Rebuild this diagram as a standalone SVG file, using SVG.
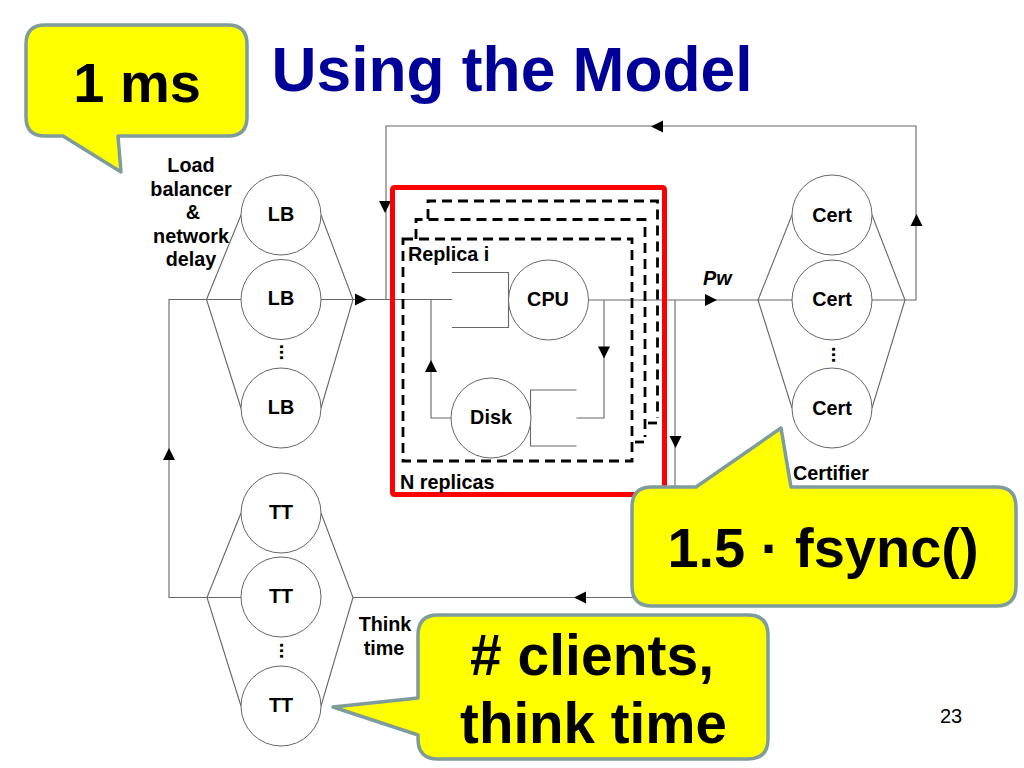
<svg xmlns="http://www.w3.org/2000/svg" width="1024" height="768" viewBox="0 0 1024 768">
<style>
text{font-family:"Liberation Sans",Arial,sans-serif;font-weight:bold;fill:#000}
.l{font-size:19.800px}
.m{text-anchor:middle}
.n{fill:#fff;stroke:#666;stroke-width:1}
.w{fill:none;stroke:#666;stroke-width:1.100}
.d{fill:none;stroke:#000;stroke-width:2.800;stroke-dasharray:10 6}
.s{fill:none;stroke:#000;stroke-width:2.800}
.c{fill:#ff0;stroke:#7f9c9c;stroke-width:3.500;stroke-linejoin:round}
.b{font-size:56px}
.a{fill:#000}
</style>
<defs>
<polygon id="ar" class="a" points="-6,-6 6,-6 0,6"/>
</defs>
<rect width="1024" height="768" fill="#fff"/>
<text id="title" x="271.500" y="91" font-size="62.300" style="fill:#000099">Using the Model</text>

<g id="connectors">
<path class="w" d="M321 299.500H452M589 300H792M872 300H916V126H386V299.500"/>
<path class="w" d="M353 597.500H675V300M241 597.500H169V299.500H241"/>
<path class="w" d="M431 300V418H451M576.500 418H604V300"/>
<path class="w" d="M452 272.500H508.500V327.500H452M576.500 390H530.500V446H576.500"/>
<path class="w" d="M241 215L206.500 299.500L241 408M321 215L353 299.500L321 408"/>
<path class="w" d="M792 215L758 300L792 408M872 215L905 300L872 408"/>
<path class="w" d="M241 513L207 597.500L241 706M321 513L353 597.500L321 706"/>
<use href="#ar" transform="translate(361,299.500) rotate(-90)"/>
<use href="#ar" transform="translate(385,207)"/>
<use href="#ar" transform="translate(657,126.500) rotate(90)"/>
<use href="#ar" transform="translate(916.500,220) rotate(180)"/>
<use href="#ar" transform="translate(711,300) rotate(-90)"/>
<use href="#ar" transform="translate(675.500,442)"/>
<use href="#ar" transform="translate(604,352.500)"/>
<use href="#ar" transform="translate(431,366) rotate(180)"/>
<use href="#ar" transform="translate(580,597.500) rotate(90)"/>
<use href="#ar" transform="translate(169,454) rotate(180)"/>
</g>

<g id="replicas">
<rect x="392.500" y="187.500" width="272" height="307" rx="2" fill="none" stroke="#f00" stroke-width="5"/>
<path class="d" d="M403 239H632V461H403Z"/>
<path class="d" d="M416 239V219.500H645V437"/>
<path class="s" d="M635 442H644"/>
<path class="d" d="M428 219V201H657.500V418"/>
<path class="s" d="M648 423H657"/>
<text class="l" x="408" y="261">Replica i</text>
<text class="l" x="400" y="489">N replicas</text>
</g>

<g id="lb1"><circle class="n" cx="281" cy="215" r="40"/><text class="l m" x="281" y="221">LB</text></g>
<g id="lb2"><circle class="n" cx="281" cy="299.500" r="40"/><text class="l m" x="281" y="305">LB</text></g>
<g id="lb3"><circle class="n" cx="281" cy="408" r="40"/><text class="l m" x="281" y="414">LB</text></g>
<g id="tt1"><circle class="n" cx="281" cy="513" r="40"/><text class="l m" x="281" y="519">TT</text></g>
<g id="tt2"><circle class="n" cx="281" cy="597" r="40"/><text class="l m" x="281" y="603">TT</text></g>
<g id="tt3"><circle class="n" cx="281" cy="706" r="40"/><text class="l m" x="281" y="712">TT</text></g>
<g id="cert1"><circle class="n" cx="832" cy="215" r="40"/><text class="l m" x="832" y="222">Cert</text></g>
<g id="cert2"><circle class="n" cx="832" cy="300" r="40"/><text class="l m" x="832" y="306">Cert</text></g>
<g id="cert3"><circle class="n" cx="832" cy="408" r="40"/><text class="l m" x="832" y="415">Cert</text></g>
<g id="cpu"><circle class="n" cx="548.500" cy="300" r="40"/><text class="l m" x="548" y="306">CPU</text></g>
<g id="disk"><circle class="n" cx="491" cy="418" r="40"/><text class="l m" x="491" y="424">Disk</text></g>

<g id="labels">
<text class="l" transform="translate(279.500,344) rotate(90)">...</text>
<text class="l" transform="translate(279.500,642.500) rotate(90)">...</text>
<text class="l" transform="translate(831.500,346.500) rotate(90)">...</text>
<text class="l m" x="191" y="172">Load</text>
<text class="l m" x="191" y="196">balancer</text>
<text class="l m" x="193" y="219">&amp;</text>
<text class="l m" x="191" y="243">network</text>
<text class="l m" x="191" y="266">delay</text>
<text class="l m" x="385" y="631">Think</text>
<text class="l m" x="384" y="655">time</text>
<text class="l" x="793" y="480">Certifier</text>
<text class="l" x="703" y="285" font-style="italic">Pw</text>
<text x="940" y="723" font-size="20" style="font-weight:normal">23</text>
</g>

<g id="callout-1ms">
<path class="c" d="M45 25H228Q247 25 247 44V117Q247 136 228 136H118L121 172L63 136H45Q26 136 26 117V44Q26 25 45 25Z"/>
<text class="b m" x="137" y="102">1 ms</text>
</g>
<g id="callout-fsync">
<path class="c" d="M652 487H696L781 428L791 487H996Q1016 487 1016 507V586Q1016 606 996 606H652Q632 606 632 586V507Q632 487 652 487Z"/>
<text class="b m" x="823" y="567">1.5 · fsync()</text>
</g>
<g id="callout-clients">
<path class="c" d="M438 615H748Q768 615 768 635V739Q768 759 748 759H438Q418 759 418 739V735L333 707L418 698V635Q418 615 438 615Z"/>
<text class="b m" x="592" y="675" style="font-size:57px"># clients,</text>
<text class="b m" x="593.500" y="743" style="font-size:56.500px">think time</text>
</g>
</svg>
